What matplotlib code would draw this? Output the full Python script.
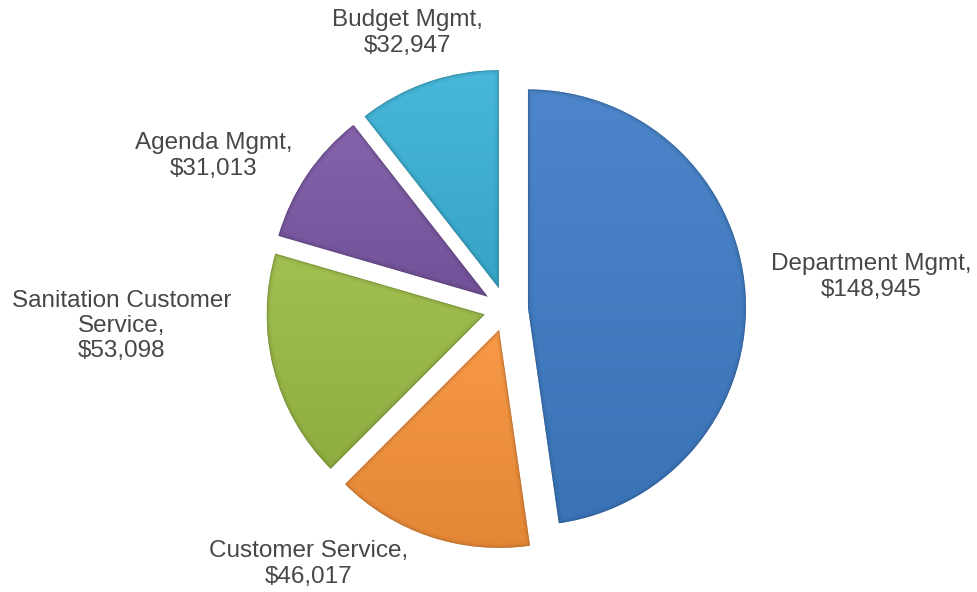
import numpy as np
import matplotlib
matplotlib.use("Agg")
import matplotlib.pyplot as plt
from matplotlib.colors import to_rgb
from matplotlib.patches import PathPatch

plt.rcParams['font.family'] = ['Liberation Sans', 'DejaVu Sans']

categories = ["Department Mgmt", "Customer Service", "Sanitation Customer\nService",
              "Agenda Mgmt", "Budget Mgmt"]
values = [148945, 46017, 53098, 31013, 32947]
colors = ["#3F7CC6", "#F7923A", "#9BBB45", "#7B58A4", "#3AB2D6"]

# label anchor positions (figure pixels, y measured from top)
label_pos = [(871, 277), (309, 564), (122, 326), (214, 156), (407, 33)]

W, H = 978, 592
fig = plt.figure(figsize=(W / 100, H / 100), dpi=100)
ax = fig.add_axes([0, 0, 1, 1])
ax.set_xlim(0, W)
ax.set_ylim(0, H)
ax.set_aspect('equal')
ax.axis('off')

center = (506, H - 309)
radius = 218
explode = [22] * len(values)

wedges, _ = ax.pie(values, colors=colors, startangle=90, counterclock=False,
                   center=center, radius=radius, explode=explode,
                   wedgeprops=dict(linewidth=0))


def shade(c, f):
    r = np.array(to_rgb(c))
    if f >= 0:
        return r + (1 - r) * f
    return r * (1 + f)


yy = np.linspace(0, 1, 256)[:, None] * np.ones((1, 2))
inv = ax.transData.inverted()
for w, c in zip(wedges, colors):
    # vertical gradient fill clipped to the wedge
    bb = w.get_path().get_extents(w.get_transform())
    (x0, y0), (x1, y1) = inv.transform([[bb.x0, bb.y0], [bb.x1, bb.y1]])
    top = shade(c, 0.07)
    bot = shade(c, -0.08)
    img = top[None, None, :] * (1 - yy[..., None]) + bot[None, None, :] * yy[..., None]
    im = ax.imshow(img, extent=(x0, x1, y0, y1), origin='upper', zorder=2,
                   interpolation='bilinear', aspect='auto')
    im.set_clip_path(w)
    w.set_facecolor('none')
    w.set_zorder(3)
    # soft bevel along the outline
    edge = shade(c, -0.35)
    for lw, a in [(6, 0.08), (3.5, 0.15), (1.2, 0.5)]:
        e = PathPatch(w.get_path(), transform=w.get_transform(),
                      facecolor='none', edgecolor=(*edge, a),
                      linewidth=lw, zorder=3)
        e.set_clip_path(w)
        ax.add_patch(e)

ax.set_xlim(0, W)
ax.set_ylim(0, H)

for cat, val, (px, py) in zip(categories, values, label_pos):
    ax.text(px, H - py, f"{cat},\n${val:,}", ha='center', va='center',
            fontsize=17.5, color='#474747', linespacing=1.2, zorder=5)

fig.savefig("out.png", dpi=100)
